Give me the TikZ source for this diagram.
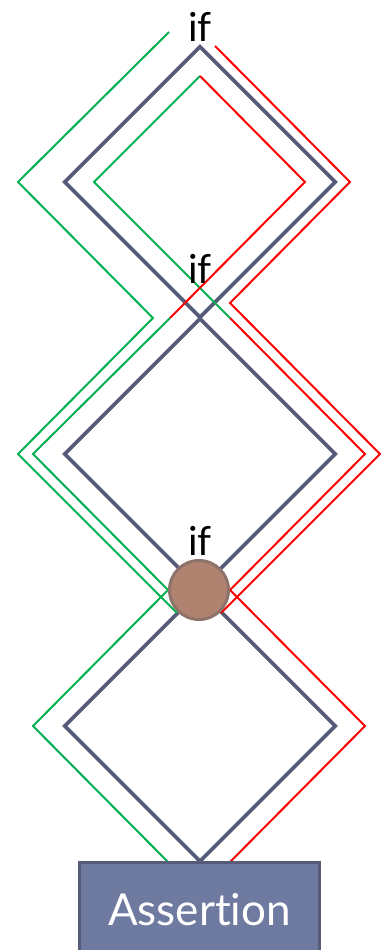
\documentclass[tikz,border=0pt]{standalone}
\usepackage{fontspec}
\setmainfont{Lato}[Ligatures={NoCommon,NoRare}]
\usetikzlibrary{positioning,calc,shapes.geometric}
\definecolor{cfggray}{HTML}{565B78}
\definecolor{truegreen}{HTML}{00B050}
\definecolor{falsered}{HTML}{FF0000}
\definecolor{mergebrown}{HTML}{B08371}
\definecolor{mergeedge}{HTML}{8E736A}
\definecolor{assertblue}{HTML}{6F7AA0}

\begin{document}
\begin{tikzpicture}[
  x=1pt, y=-1pt,
  cfgdiamond/.style={diamond, draw=cfggray, line width=3.8pt, inner sep=0pt,
                     minimum width=272pt, minimum height=272pt},
  truepath/.style={draw=truegreen, line width=2pt},
  falsepath/.style={draw=falsered, line width=2pt},
  iflabel/.style={font=\fontsize{40}{40}\selectfont, inner sep=0pt, anchor=base},
  mergept/.style={circle, fill=mergebrown, draw=mergeedge, line width=3pt,
                  minimum size=59pt, inner sep=0pt},
  assertbox/.style={draw=cfggray, fill=assertblue, line width=3pt, inner sep=0pt,
                    minimum width=240pt, minimum height=96pt, text=white,
                    font=\fontsize{44}{44}\selectfont}
]
  \useasboundingbox (0,0) rectangle (387,950);
  \clip (0,0) rectangle (387,950);

  % the three ifs
  \node[cfgdiamond] (d1) at (200,182) {};
  \node[cfgdiamond] (d2) at (200,454) {};
  \node[cfgdiamond] (d3) at (200,726) {};

  % outer paths
  \draw[truepath] (169,32) -- (18,182) -- (153,318) -- (18,454) -- (177,613);
  \draw[falsepath] (215,46) -- (350,182) -- (230,303) -- (380,454) -- (221,613);

  % inner paths, colour switches at the second if
  \draw[truepath] (200,76) -- (94,182) -- (230,318);
  \draw[falsepath] (230,318) -- (365,454) -- (230,590) -- (365,726) -- (230,862);
  \draw[falsepath] (200,76) -- (305,182) -- (170,318);
  \draw[truepath] (170,318) -- (33,454) -- (168,590) -- (33,726) -- (168,862);

  \node[mergept] (merge) at (199,590) {};

  \node[iflabel] (if1) at (200,42) {if};
  \node[iflabel] (if2) at (200,283) {if};
  \node[iflabel] (if3) at (200,555) {if};

  \node[assertbox] (assert) at (199.5,910) {Assertion};
\end{tikzpicture}
\end{document}
